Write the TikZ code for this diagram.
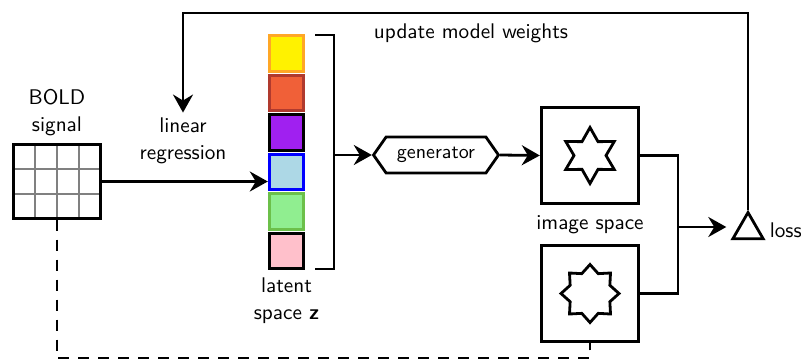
\documentclass[tikz,border=0pt]{standalone}
\usetikzlibrary{arrows.meta,positioning,shapes.geometric,shapes.symbols}
\definecolor{zorange}{HTML}{FFA726}
\definecolor{zred}{HTML}{F06038}
\definecolor{zredline}{HTML}{B03A2E}
\definecolor{zviolet}{HTML}{A020F0}
\definecolor{zblue}{HTML}{ADD8E6}
\definecolor{zgreen}{HTML}{90EE90}
\definecolor{zgreenline}{HTML}{6CC04A}
\definecolor{zpink}{HTML}{FFC0CB}
\begin{document}
\begin{tikzpicture}[x=0.5pt,y=-0.5pt,font=\sffamily\fontsize{10.6pt}{13.5pt}\selectfont,line width=1.4pt,
  >={Stealth[length=9pt,width=10pt,inset=3pt]},
  zcell/.style={draw,minimum width=17.3pt,minimum height=17.8pt,inner sep=0pt},
  imgbox/.style={draw,minimum width=48.8pt,minimum height=47.8pt,inner sep=0pt},
  gridline/.style={gray,line width=1.1pt},
  lbl/.style={align=center,inner sep=2pt}]
\useasboundingbox (0,0) rectangle (801,358);

% BOLD signal
\foreach \gx in {35,57,79} \draw[gridline] (\gx,145) -- (\gx,218);
\foreach \gy in {169,194} \draw[gridline] (14,\gy) -- (100,\gy);
\node [draw,minimum width=43.3pt,minimum height=36.8pt,inner sep=0pt] (bold) at (57,181.5) {};
\node [lbl,above=1pt of bold] (boldlbl) {BOLD\\signal};

% latent space
\foreach \i/\fc/\dc in {1/yellow/zorange,2/zred/zredline,3/zviolet/black,
                        4/zblue/blue,5/zgreen/zgreenline,6/zpink/black}
  \node [zcell,fill=\fc,draw=\dc] (z\i) at (286.5,14+39.5*\i) {};
\node [lbl,below=1pt of z6] (zlbl) {latent\\space \textbf{z}};
\draw (315,35) -| (334,269) -- (315,269);
\coordinate (brk) at (334,155);

\node [lbl] (linreg) at (183,141) {linear\\regression};
\draw [->] (bold.east) -- (bold.east -| z4.west);

% generator and images
\node [draw,shape=signal,signal to=east and west,signal pointer angle=110,
       minimum width=62.5pt,minimum height=18pt,inner sep=0pt,font=\sffamily]
       (gen) at (436,155) {generator};
\draw [->] (brk) -- (gen.west);
\node [imgbox] (img1) at (590,155.5) {};
\node [draw,star,star points=6,star point ratio=1.75,minimum size=28pt,inner sep=0pt] (hexa) at (img1) {};
\node [lbl,below=3pt of img1] (imglbl) {image space};
\node [imgbox] (img2) at (590,293.5) {};
\node [draw,star,star points=8,star point ratio=1.35,minimum size=29pt,inner sep=0pt] (octa) at (img2) {};
\draw [->] (gen.east) -- (img1.west);

% loss
\node [draw,regular polygon,regular polygon sides=3,minimum size=17.5pt,inner sep=0pt] (loss) at (748,230) {};
\node [right=1pt of loss] (losslbl) {loss};
\coordinate (join) at (678,227);
\draw (img1.east) -| (join);
\draw (img2.east) -| (join);
\draw [->,shorten >=5pt] (join) -- (join -| loss.west);

% feedback
\coordinate (fbtop) at (748,13);
\draw [->] (loss.north) -- (fbtop) -| (linreg.north);
\node (updlbl) at (471,33) {update model weights};

\coordinate (dashlow) at (57,358.5);
\draw [dash pattern=on 5.5pt off 4.5pt] (bold.south) -- (dashlow) -| (img2.south);
\end{tikzpicture}
\end{document}
